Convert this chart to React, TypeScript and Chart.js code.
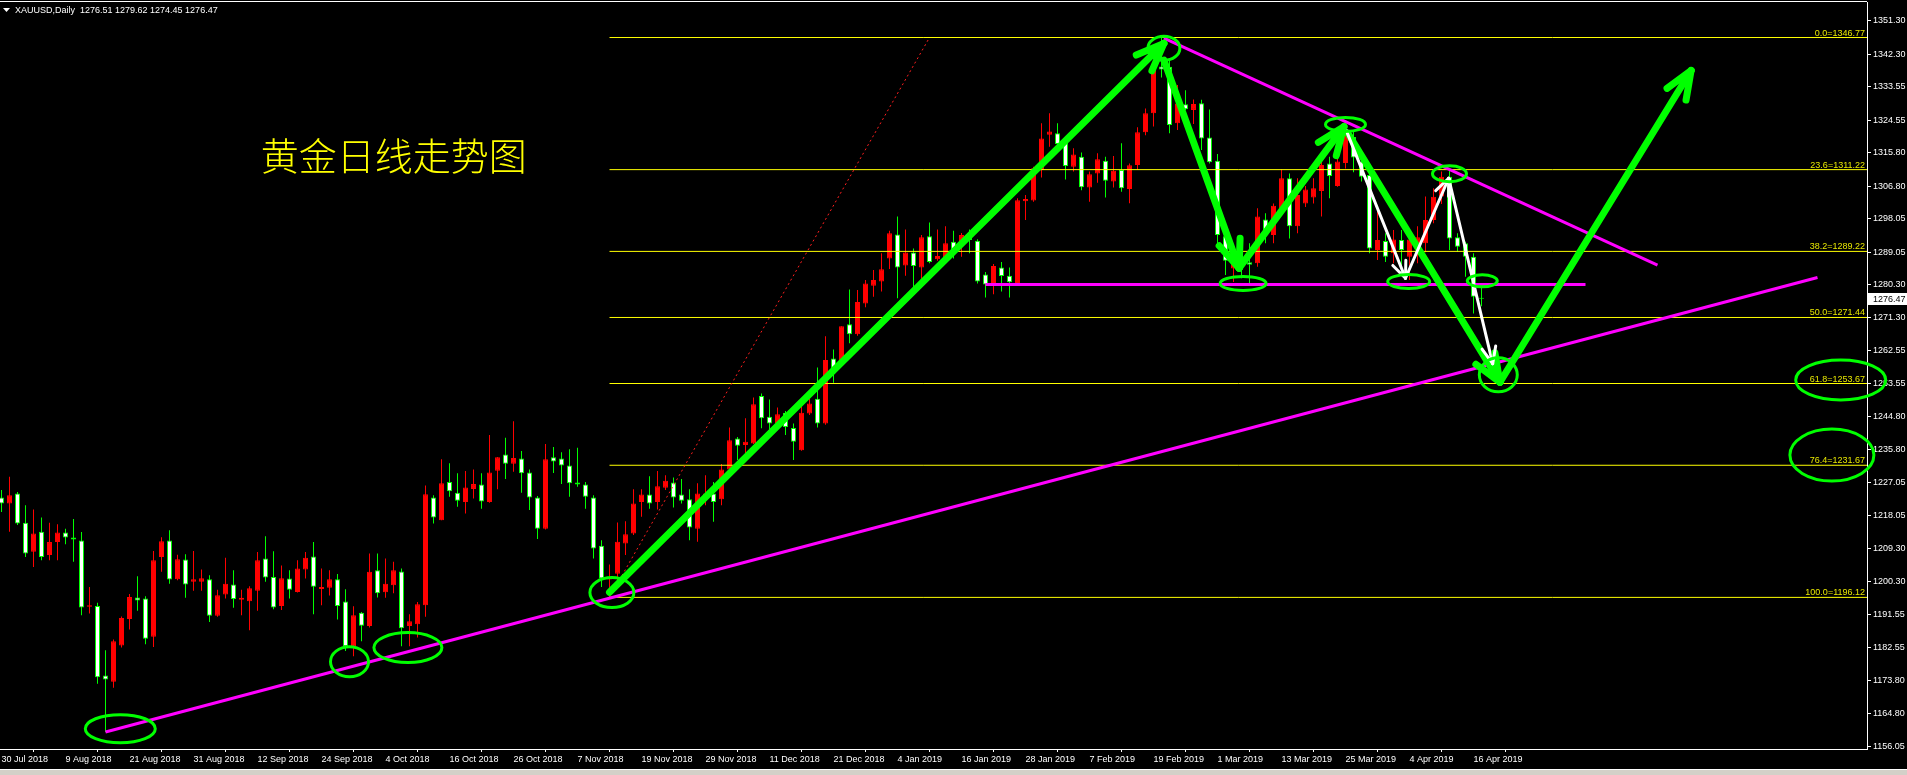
import React, { useEffect, useRef } from 'react';
import { Chart, registerables } from 'chart.js';

Chart.register(...registerables);

const W = 1907;
const H = 775;

// ---- candle data (index 0 = 30 Jul 2018, one daily bar per index) ----
const opens = [
  1223.0, 1221.4, 1224.1, 1216.2, 1208.4, 1213.8, 1207.5, 1211.0, 1213.6, 1212.2,
  1211.4, 1193.6, 1193.8, 1175.1, 1173.4, 1183.2, 1190.3, 1196.1, 1195.8, 1185.5,
  1207.0, 1211.4, 1201.0, 1206.3, 1200.3, 1200.3, 1201.0, 1191.2, 1196.9, 1199.6,
  1195.5, 1195.1, 1197.9, 1206.6, 1201.6, 1193.8, 1201.2, 1197.6, 1203.6, 1207.1,
  1198.4, 1198.7, 1201.0, 1195.0, 1183.0, 1192.0, 1188.4, 1203.4, 1197.5, 1199.4,
  1203.1, 1188.4, 1188.9, 1194.0, 1223.0, 1216.9, 1227.2, 1224.3, 1221.8, 1225.3,
  1226.5, 1221.8, 1230.2, 1234.6, 1232.1, 1233.5, 1229.7, 1223.0, 1214.6, 1233.8,
  1233.5, 1231.6, 1227.0, 1226.5, 1223.0, 1210.0, 1200.9, 1202.5, 1210.6, 1213.3,
  1221.8, 1223.8, 1221.8, 1225.6, 1227.0, 1223.8, 1222.5, 1214.6, 1222.7, 1224.1,
  1222.5, 1230.5, 1238.9, 1237.1, 1237.5, 1250.3, 1244.7, 1242.9, 1245.8, 1241.7,
  1235.7, 1245.6, 1249.6, 1242.9, 1260.4, 1258.6, 1269.6, 1266.9, 1275.2, 1280.0,
  1281.1, 1287.3, 1293.8, 1285.4, 1288.9, 1284.9, 1293.3, 1287.1, 1287.6, 1291.8,
  1290.7, 1293.9, 1292.1, 1283.0, 1280.3, 1284.9, 1282.7, 1280.4, 1302.7, 1302.9,
  1311.1, 1320.6, 1321.0, 1319.0, 1312.0, 1314.7, 1306.4, 1310.2, 1313.6, 1308.0,
  1311.1, 1306.0, 1312.5, 1321.3, 1326.4, 1339.0, 1338.9, 1323.7, 1328.8, 1327.3,
  1329.1, 1319.9, 1313.6, 1293.3, 1284.6, 1286.5, 1286.3, 1286.0, 1297.8, 1293.6,
  1300.8, 1308.9, 1296.0, 1302.1, 1303.7, 1305.5, 1312.9, 1306.8, 1313.0, 1320.0,
  1313.4, 1309.8, 1289.6, 1292.0, 1288.7, 1292.3, 1287.8, 1290.0, 1291.4, 1297.7,
  1304.0, 1309.3, 1293.0, 1291.4, 1287.8, 1276.51,
];
const highs = [
  1225.0, 1228.6, 1224.5, 1220.9, 1219.8, 1217.6, 1216.2, 1215.8, 1214.6, 1217.2,
  1213.7, 1198.9, 1194.7, 1181.9, 1184.8, 1191.0, 1197.0, 1201.8, 1196.4, 1208.6,
  1212.3, 1214.2, 1207.6, 1207.7, 1208.6, 1203.6, 1202.1, 1198.2, 1206.8, 1203.4,
  1198.2, 1199.1, 1208.3, 1212.6, 1208.5, 1204.7, 1203.4, 1206.1, 1208.3, 1211.0,
  1203.9, 1203.4, 1202.4, 1198.3, 1193.7, 1192.2, 1207.9, 1207.9, 1206.6, 1205.7,
  1203.9, 1191.6, 1194.9, 1226.2, 1223.6, 1233.3, 1232.2, 1229.5, 1230.1, 1230.5,
  1229.5, 1239.8, 1233.9, 1239.1, 1243.5, 1235.5, 1230.5, 1223.4, 1237.4, 1236.6,
  1235.2, 1236.0, 1236.4, 1227.2, 1223.6, 1211.5, 1205.0, 1216.3, 1216.6, 1225.2,
  1225.2, 1228.7, 1230.1, 1229.0, 1228.4, 1228.0, 1225.2, 1226.8, 1229.0, 1227.2,
  1232.0, 1241.8, 1239.3, 1244.3, 1249.9, 1251.0, 1249.4, 1247.2, 1246.3, 1242.9,
  1248.0, 1249.6, 1258.0, 1266.4, 1262.8, 1269.1, 1279.0, 1278.8, 1281.5, 1284.2,
  1288.7, 1294.8, 1298.6, 1295.1, 1290.0, 1293.6, 1297.0, 1295.1, 1296.0, 1294.8,
  1294.2, 1295.1, 1292.5, 1283.7, 1285.8, 1286.4, 1284.9, 1303.5, 1304.4, 1312.0,
  1323.7, 1326.4, 1323.7, 1320.1, 1317.0, 1315.8, 1310.7, 1315.6, 1314.7, 1314.9,
  1318.3, 1312.9, 1322.6, 1327.7, 1340.3, 1346.77, 1340.7, 1334.0, 1332.6, 1330.1,
  1330.0, 1327.4, 1315.4, 1295.0, 1287.8, 1290.0, 1291.4, 1300.8, 1299.5, 1302.1,
  1311.3, 1310.2, 1308.9, 1306.8, 1308.9, 1313.8, 1314.7, 1319.2, 1324.5, 1321.5,
  1314.5, 1311.1, 1300.3, 1294.1, 1295.0, 1295.0, 1295.0, 1296.0, 1304.0, 1306.2,
  1310.7, 1311.1, 1294.1, 1291.8, 1288.7, 1279.62,
];
const lows = [
  1219.1, 1213.8, 1215.6, 1207.0, 1204.3, 1206.1, 1206.1, 1206.1, 1210.4, 1205.7,
  1191.3, 1191.8, 1172.9, 1159.9, 1171.8, 1182.6, 1187.5, 1192.5, 1183.5, 1182.8,
  1203.0, 1199.8, 1200.7, 1196.0, 1197.9, 1197.9, 1189.5, 1190.9, 1195.8, 1193.3,
  1191.3, 1187.3, 1192.5, 1200.3, 1192.9, 1192.7, 1195.8, 1197.4, 1201.2, 1191.6,
  1194.0, 1196.6, 1190.2, 1181.7, 1180.3, 1184.3, 1188.0, 1196.1, 1196.0, 1197.2,
  1183.0, 1183.0, 1185.3, 1190.9, 1216.0, 1216.9, 1223.2, 1220.5, 1218.7, 1222.7,
  1220.0, 1221.6, 1225.2, 1228.0, 1229.9, 1224.3, 1219.6, 1211.8, 1214.4, 1229.6,
  1226.6, 1223.2, 1225.9, 1220.0, 1206.6, 1198.9, 1196.12, 1200.0, 1207.5, 1212.9,
  1217.8, 1220.0, 1219.8, 1225.0, 1220.3, 1221.4, 1211.5, 1211.1, 1220.9, 1216.5,
  1220.9, 1230.4, 1233.1, 1234.4, 1237.4, 1241.6, 1241.0, 1242.0, 1239.8, 1233.1,
  1235.6, 1245.2, 1241.8, 1242.6, 1253.9, 1258.2, 1264.5, 1266.5, 1274.2, 1277.0,
  1278.4, 1284.5, 1276.6, 1282.7, 1279.3, 1281.1, 1286.0, 1286.7, 1287.3, 1287.3,
  1287.8, 1288.7, 1280.6, 1276.8, 1277.7, 1278.4, 1276.8, 1280.2, 1297.7, 1302.6,
  1309.1, 1317.4, 1317.0, 1308.6, 1310.7, 1305.7, 1302.6, 1307.7, 1303.7, 1306.4,
  1305.3, 1302.2, 1311.1, 1320.5, 1322.8, 1336.0, 1321.0, 1321.9, 1327.3, 1323.5,
  1316.5, 1312.9, 1290.5, 1282.9, 1281.0, 1282.0, 1280.6, 1285.1, 1291.4, 1291.4,
  1299.9, 1292.7, 1294.1, 1301.2, 1302.1, 1298.6, 1303.5, 1306.6, 1311.5, 1310.5,
  1308.0, 1288.7, 1286.9, 1286.4, 1286.0, 1283.0, 1281.5, 1286.0, 1289.0, 1296.8,
  1302.0, 1289.6, 1289.1, 1282.4, 1272.5, 1274.45,
];
const closes = [
  1221.4, 1223.6, 1216.0, 1207.9, 1213.3, 1207.0, 1211.0, 1213.6, 1212.2, 1211.7,
  1193.4, 1194.0, 1174.6, 1174.0, 1184.3, 1190.6, 1196.2, 1195.3, 1185.0, 1206.1,
  1211.2, 1200.9, 1206.4, 1199.6, 1201.0, 1201.3, 1191.2, 1196.7, 1199.8, 1195.7,
  1196.0, 1198.6, 1206.1, 1201.5, 1193.4, 1201.3, 1198.2, 1203.9, 1206.8, 1199.0,
  1198.9, 1201.0, 1193.8, 1183.0, 1191.3, 1188.5, 1203.0, 1197.2, 1199.8, 1203.4,
  1187.8, 1189.7, 1194.3, 1223.9, 1217.6, 1226.8, 1224.7, 1222.1, 1225.7, 1226.6,
  1221.9, 1229.7, 1233.8, 1232.1, 1233.6, 1229.5, 1223.0, 1214.6, 1233.3, 1232.7,
  1231.6, 1226.8, 1226.5, 1223.2, 1209.3, 1201.2, 1201.6, 1211.1, 1213.1, 1221.4,
  1223.8, 1221.4, 1226.0, 1227.5, 1223.0, 1222.1, 1214.9, 1224.1, 1224.1, 1221.8,
  1230.5, 1238.4, 1236.9, 1238.0, 1248.1, 1244.3, 1242.9, 1245.4, 1242.0, 1238.0,
  1245.8, 1248.3, 1242.9, 1260.0, 1256.4, 1269.1, 1266.9, 1275.6, 1280.6, 1281.5,
  1284.4, 1294.1, 1284.9, 1288.9, 1285.3, 1293.0, 1286.4, 1288.0, 1291.4, 1289.6,
  1293.6, 1292.3, 1281.1, 1280.3, 1285.3, 1282.6, 1280.9, 1303.0, 1303.3, 1311.6,
  1319.6, 1321.5, 1318.1, 1312.2, 1315.3, 1306.5, 1310.0, 1314.0, 1308.2, 1310.9,
  1306.2, 1312.4, 1321.3, 1326.4, 1338.9, 1338.2, 1323.2, 1329.0, 1327.5, 1328.9,
  1319.6, 1313.2, 1293.6, 1286.7, 1286.8, 1285.0, 1285.6, 1298.6, 1294.5, 1301.5,
  1308.9, 1296.0, 1304.4, 1305.9, 1306.2, 1312.5, 1309.5, 1313.4, 1321.0, 1314.5,
  1309.3, 1290.0, 1292.3, 1287.8, 1292.4, 1289.6, 1292.4, 1293.0, 1297.7, 1303.9,
  1309.3, 1292.7, 1290.5, 1287.8, 1277.0, 1276.47,
];

// ---- axis labels ----
const dateLabels = [
  '30 Jul 2018', '9 Aug 2018', '21 Aug 2018', '31 Aug 2018', '12 Sep 2018', '24 Sep 2018',
  '4 Oct 2018', '16 Oct 2018', '26 Oct 2018', '7 Nov 2018', '19 Nov 2018', '29 Nov 2018',
  '11 Dec 2018', '21 Dec 2018', '4 Jan 2019', '16 Jan 2019', '28 Jan 2019', '7 Feb 2019',
  '19 Feb 2019', '1 Mar 2019', '13 Mar 2019', '25 Mar 2019', '4 Apr 2019', '16 Apr 2019',
];
const labelStep = 8;
const priceTicks = [
  1351.30, 1342.30, 1333.55, 1324.55, 1315.80, 1306.80, 1298.05, 1289.05, 1280.30, 1271.30,
  1262.55, 1253.55, 1244.80, 1235.80, 1227.05, 1218.05, 1209.30, 1200.30, 1191.55, 1182.55,
  1173.80, 1164.80, 1156.05,
];

// ---- fibonacci ----
const fibStart = 76;
const fibPercents = ['0.0', '23.6', '38.2', '50.0', '61.8', '76.4', '100.0'];
const fibLevels = [1346.77, 1311.22, 1289.22, 1271.44, 1253.67, 1231.67, 1196.12];
const fibDiagonal = [{ x: 76, y: 1196.12 }, { x: 116, y: 1346.77 }];

// ---- drawn objects (bar index, price) ----
const supportLine = [{ x: 13, y: 1159.9 }, { x: 227, y: 1282.2 }];
const resistanceLine = [{ x: 145.3, y: 1346.6 }, { x: 207, y: 1285.5 }];
const necklineLine = [{ x: 123, y: 1280.3 }, { x: 198, y: 1280.3 }];
const greenArrows = [
  [76, 1197.5, 145.3, 1345.2],
  [145.3, 1340.7, 154.7, 1284.7],
  [154.7, 1284.7, 167.8, 1322.8],
  [168.3, 1321.0, 187.3, 1254.0],
  [187.3, 1254.0, 211.2, 1337.9],
];
const whiteArrows = [
  [167.9, 1322.8, 175.5, 1282.0],
  [175.5, 1282.0, 180.9, 1308.9],
  [180.9, 1308.9, 186.4, 1259.0],
];
// [bar index, price, radiusX px, radiusY px]
const ellipses = [
  [14.85, 1160.8, 35, 14], [43.5, 1178.8, 19, 15], [50.8, 1182.6, 34, 15], [76.3, 1197.4, 22, 15],
  [145.3, 1343.9, 16, 12], [155.2, 1280.6, 23, 7], [168, 1323.4, 20, 7], [175.9, 1281.1, 21, 7],
  [181, 1310.1, 17, 8], [185.1, 1281.3, 15, 6], [187.1, 1256.0, 19, 17],
  [229.9, 1254.6, 45, 20], [228.8, 1234.4, 42, 26],
];
const titleText = '黄金日线走势图';
const titleAnchor = { x: 32.4, y: 1315.1 };
const headerText = 'XAUUSD,Daily  1276.51 1279.62 1274.45 1276.47';
const lastPrice = 1276.47;

const UP = '#FF0000';
const DOWN = '#00FF00';
const AXIS_FONT = '"Liberation Sans", Arial, sans-serif';

function drawHead(ctx: CanvasRenderingContext2D, fx: number, fy: number, tx: number, ty: number, len: number, ang: number) {
  const dx = fx - tx;
  const dy = fy - ty;
  const d = Math.hypot(dx, dy) || 1;
  const ux = dx / d;
  const uy = dy / d;
  for (const s of [1, -1]) {
    const a = ang * s;
    const rx = ux * Math.cos(a) - uy * Math.sin(a);
    const ry = ux * Math.sin(a) + uy * Math.cos(a);
    ctx.beginPath();
    ctx.moveTo(tx, ty);
    ctx.lineTo(tx + rx * len, ty + ry * len);
    ctx.stroke();
  }
}

const overlayPlugin = {
  id: 'mtOverlay',
  beforeDraw(chart: any) {
    const ctx = chart.ctx;
    ctx.save();
    ctx.fillStyle = '#000';
    ctx.fillRect(0, 0, chart.width, chart.height);
    ctx.restore();
  },
  afterDatasetsDraw(chart: any) {
    const ctx: CanvasRenderingContext2D = chart.ctx;
    const xs = chart.scales.x;
    const ys = chart.scales.y;
    const px = (v: number) => xs.getPixelForValue(v);
    const py = (v: number) => ys.getPixelForValue(v);
    ctx.save();
    // fib labels
    ctx.font = `9px ${AXIS_FONT}`;
    ctx.fillStyle = '#E8E800';
    ctx.textAlign = 'right';
    ctx.textBaseline = 'alphabetic';
    fibLevels.forEach((lv, k) => {
      ctx.fillText(`${fibPercents[k]}=${lv.toFixed(2)}`, chart.chartArea.right - 2, py(lv) - 2);
    });
    // arrow heads
    ctx.lineCap = 'round';
    ctx.strokeStyle = DOWN;
    ctx.lineWidth = 7;
    greenArrows.forEach((a) => drawHead(ctx, px(a[0]), py(a[1]), px(a[2]), py(a[3]), 30, 0.38));
    ctx.strokeStyle = '#FFFFFF';
    ctx.lineWidth = 3;
    whiteArrows.forEach((a) => drawHead(ctx, px(a[0]), py(a[1]), px(a[2]), py(a[3]), 18, 0.4));
    // ellipses
    ctx.strokeStyle = DOWN;
    ctx.lineWidth = 3;
    ellipses.forEach((e) => {
      ctx.beginPath();
      ctx.ellipse(px(e[0]), py(e[1]), e[2], e[3], 0, 0, Math.PI * 2);
      ctx.stroke();
    });
    // title
    ctx.font = `300 38px "Noto Sans CJK SC", sans-serif`;
    ctx.fillStyle = '#FFFF00';
    ctx.textAlign = 'left';
    ctx.textBaseline = 'middle';
    ctx.fillText(titleText, px(titleAnchor.x), py(titleAnchor.y));
    ctx.restore();
  },
  afterDraw(chart: any) {
    const ctx: CanvasRenderingContext2D = chart.ctx;
    const area = chart.chartArea;
    const ys = chart.scales.y;
    ctx.save();
    // top frame line
    ctx.fillStyle = '#FFFFFF';
    ctx.fillRect(0, 1, area.right, 1);
    // header
    ctx.beginPath();
    ctx.moveTo(3, 8);
    ctx.lineTo(10, 8);
    ctx.lineTo(6.5, 12);
    ctx.closePath();
    ctx.fill();
    ctx.font = `9px ${AXIS_FONT}`;
    ctx.textAlign = 'left';
    ctx.textBaseline = 'alphabetic';
    ctx.fillText(headerText, 15, 13);
    // current price box
    const yp = Math.round(ys.getPixelForValue(lastPrice));
    ctx.fillStyle = '#FFFFFF';
    ctx.fillRect(area.right + 1, yp - 6, W - area.right - 1, 12);
    ctx.fillStyle = '#000000';
    ctx.textBaseline = 'middle';
    ctx.fillText(lastPrice.toFixed(2), area.right + 6, yp + 0.5);
    // bottom window strip
    ctx.fillStyle = '#FFFFFF';
    ctx.fillRect(0, 769, W, 1);
    ctx.fillStyle = '#D4D0C8';
    ctx.fillRect(0, 770, W, 5);
    ctx.restore();
  },
};

export default function App() {
  const ref = useRef<HTMLCanvasElement | null>(null);
  useEffect(() => {
    document.body.style.margin = '0';
    document.body.style.background = '#000';
    const canvas = ref.current;
    if (!canvas) return;
    const idx = opens.map((_, i) => i);
    const up = idx.map((i) => closes[i] > opens[i]);
    const bodyData = idx.map((i) => ({ x: i, y: [Math.min(opens[i], closes[i]), Math.max(opens[i], closes[i])] }));
    const wickData = idx.map((i) => ({ x: i, y: [lows[i], highs[i]] }));
    const xMin = -0.1875;
    const xMax = 1867 / 8 - 0.1875;

    const line = (data: any[], color: string, width: number, order: number, extra: any = {}) => ({
      type: 'line',
      data,
      borderColor: color,
      borderWidth: width,
      pointRadius: 0,
      fill: false,
      tension: 0,
      order,
      ...extra,
    });

    const datasets: any[] = [
      {
        type: 'bar',
        data: bodyData,
        backgroundColor: up.map((u) => (u ? UP : '#FFFFFF')),
        borderColor: up.map((u) => (u ? UP : DOWN)),
        borderWidth: 1,
        borderSkipped: false,
        barThickness: 5,
        grouped: false,
        minBarLength: 1,
        inflateAmount: 0,
        order: 10,
      },
      {
        type: 'bar',
        data: wickData,
        backgroundColor: up.map((u) => (u ? UP : DOWN)),
        borderWidth: 0,
        barThickness: 1,
        grouped: false,
        minBarLength: 1,
        inflateAmount: 0,
        order: 11,
      },
      ...fibLevels.map((lv) => line([{ x: fibStart, y: lv }, { x: xMax, y: lv }], '#FFFF00', 1, 6)),
      line(fibDiagonal, '#FF1E1E', 1, 5, { borderDash: [2, 3] }),
      line(supportLine, '#FF00FF', 3, 4),
      line(resistanceLine, '#FF00FF', 3, 4),
      line(necklineLine, '#FF00FF', 3, 4),
      ...greenArrows.map((a) => line([{ x: a[0], y: a[1] }, { x: a[2], y: a[3] }], DOWN, 7, 2, { borderCapStyle: 'round' })),
      ...whiteArrows.map((a) => line([{ x: a[0], y: a[1] }, { x: a[2], y: a[3] }], '#FFFFFF', 3, 1, { borderCapStyle: 'round' })),
    ];

    const chart = new Chart(canvas, {
      type: 'bar',
      data: { datasets },
      plugins: [overlayPlugin],
      options: {
        responsive: false,
        animation: false,
        events: [],
        devicePixelRatio: 1,
        layout: { padding: { top: 2, left: 0, right: 0, bottom: 0 } },
        plugins: { legend: { display: false }, tooltip: { enabled: false } },
        scales: {
          x: {
            type: 'linear',
            min: xMin,
            max: xMax,
            offset: false,
            afterBuildTicks: (s: any) => {
              s.ticks = dateLabels.map((_, k) => ({ value: k * labelStep }));
            },
            afterFit: (s: any) => {
              s.height = 26;
              s.paddingLeft = 0;
              s.paddingRight = 0;
            },
            grid: { display: true, drawOnChartArea: false, drawTicks: true, tickLength: 3, tickColor: '#FFFFFF', color: '#FFFFFF' },
            border: { display: true, color: '#FFFFFF', width: 1 },
            ticks: {
              color: '#FFFFFF',
              font: { family: AXIS_FONT, size: 9 },
              align: 'start',
              padding: 2,
              maxRotation: 0,
              autoSkip: false,
              callback: (_v: any, i: number) => dateLabels[i],
            },
          },
          y: {
            type: 'linear',
            position: 'right',
            min: 1155.32,
            max: 1356.33,
            afterBuildTicks: (s: any) => {
              s.ticks = priceTicks.map((v) => ({ value: v }));
            },
            afterFit: (s: any) => {
              s.width = W - 1867;
              s.paddingTop = 0;
              s.paddingBottom = 0;
            },
            grid: { display: true, drawOnChartArea: false, drawTicks: true, tickLength: 4, tickColor: '#FFFFFF', color: '#FFFFFF' },
            border: { display: true, color: '#FFFFFF', width: 1 },
            ticks: {
              color: '#FFFFFF',
              font: { family: AXIS_FONT, size: 9 },
              padding: 2,
              autoSkip: false,
              callback: (v: any) => Number(v).toFixed(2),
            },
          },
        },
      } as any,
    } as any);
    return () => chart.destroy();
  }, []);
  return (
    <div style={{ width: W, height: H, background: '#000' }}>
      <canvas ref={ref} width={W} height={H} style={{ display: 'block', width: W, height: H }} />
    </div>
  );
}
